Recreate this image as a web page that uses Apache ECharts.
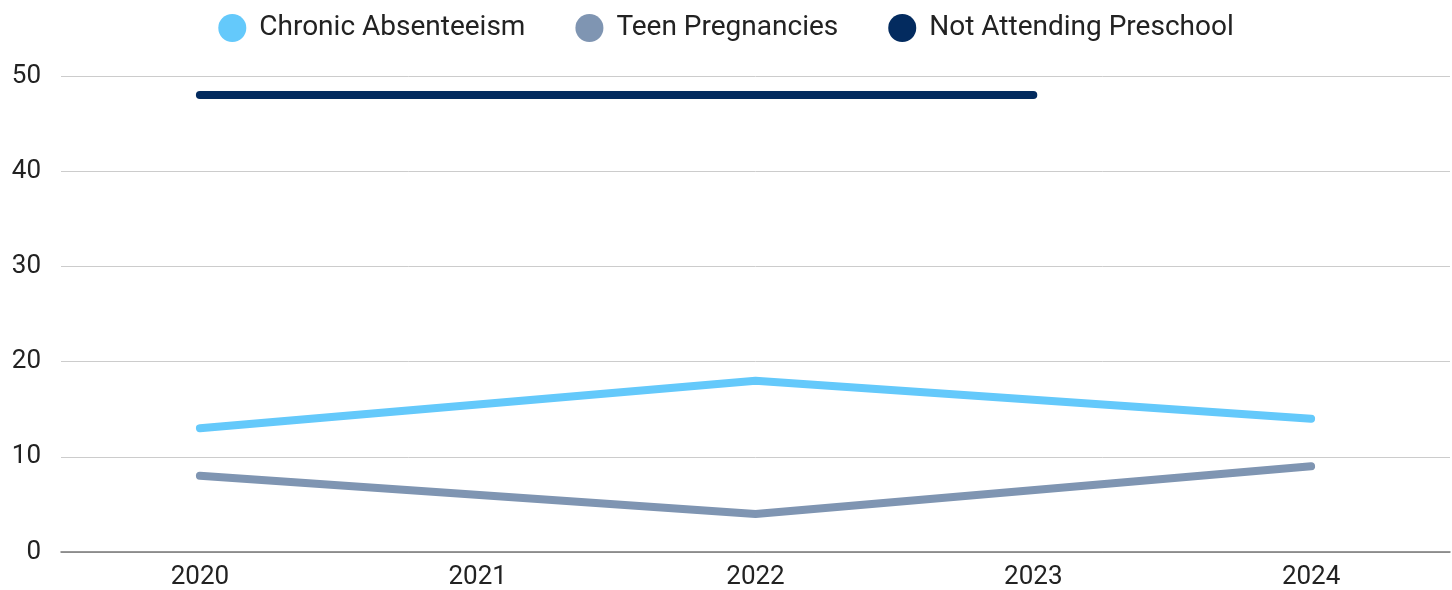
<!DOCTYPE html>
<html>
<head>
<meta charset="utf-8">
<style>
html, body {margin: 0; padding: 0; background: #fff;}
#chart {width: 1452px; height: 590px;}
</style>
</head>
<body>
<div id="chart"></div>
<script src="https://cdn.jsdelivr.net/npm/echarts@6/dist/echarts.min.js"></script>
<script>
var years = ['2020', '2021', '2022', '2023', '2024'];
var chronicAbsenteeism = [13, null, 18, null, 14];
var teenPregnancies = [8, null, 4, null, 9];
var notAttendingPreschool = [48, 48, null, 48, null];

var chart = echarts.init(document.getElementById('chart'));

function lineSeries(name, data, color) {
    return {
        name: name,
        type: 'line',
        data: data,
        connectNulls: true,
        showSymbol: false,
        symbol: 'circle',
        lineStyle: {width: 8, color: color, cap: 'round', join: 'round'},
        itemStyle: {color: color}
    };
}

chart.setOption({
    textStyle: {fontFamily: 'Roboto'},
    legend: {
        top: 9,
        left: 'center',
        icon: 'circle',
        itemWidth: 28,
        itemHeight: 28,
        itemGap: 50,
        textStyle: {fontSize: 28, color: '#222', fontFamily: 'Roboto', padding: [0, 0, 0, 8]}
    },
    grid: {left: 61, right: 2, top: 76, bottom: 38},
    xAxis: {
        type: 'category',
        data: years,
        boundaryGap: true,
        axisTick: {show: false},
        axisLine: {lineStyle: {color: '#777', width: 1.5}},
        axisLabel: {fontSize: 26, color: '#222', margin: 12}
    },
    yAxis: {
        type: 'value',
        min: 0,
        max: 50,
        interval: 10,
        axisLine: {show: false},
        axisTick: {show: false},
        axisLabel: {fontSize: 26, color: '#222', margin: 20, align: 'right'},
        splitLine: {lineStyle: {color: '#ccc', width: 1}}
    },
    series: [
        lineSeries('Chronic Absenteeism', chronicAbsenteeism, '#64c9fb'),
        lineSeries('Teen Pregnancies', teenPregnancies, '#7f95b2'),
        lineSeries('Not Attending Preschool', notAttendingPreschool, '#032b5f')
    ]
});
</script>
</body>
</html>
